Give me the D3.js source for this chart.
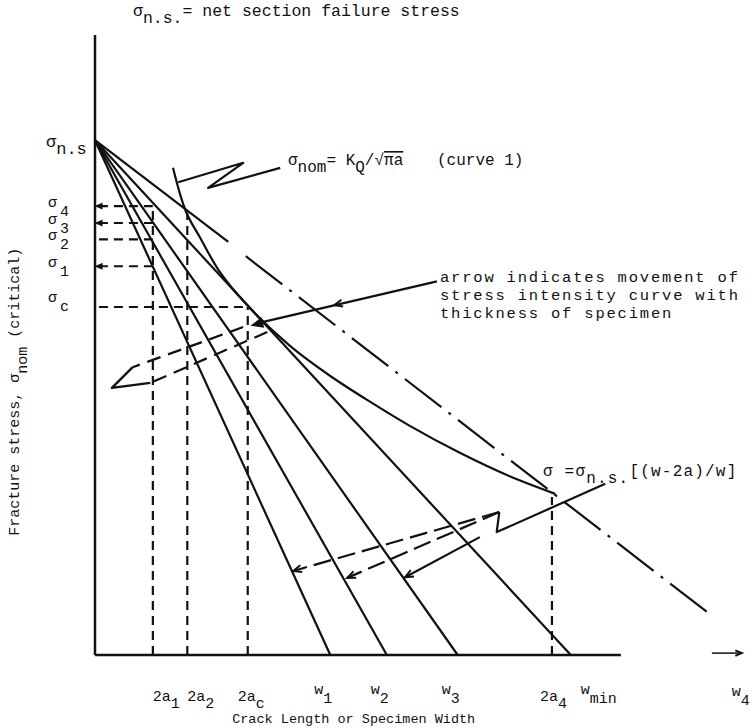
<!DOCTYPE html>
<html>
<head>
<meta charset="utf-8">
<script src="https://cdn.jsdelivr.net/npm/d3@7"></script>
<style>
  body { margin: 0; background: #fff; }
  text { font-family: "Liberation Mono", "DejaVu Sans Mono", monospace; fill: #111; white-space: pre; }
</style>
</head>
<body>
<div id="chart"></div>
<script>
// schematic units: x = crack length / width (0..100), y = fracture stress (0..100)
const sigmaNS = 82.1
const sigmaNames = ['4', '3', '2', '1', 'c']
const sigmaValues = [71.6, 68.9, 66.3, 62.0, 55.5]
const sigmaReach = [8.9, 8.9, 8.9, 8.9, 23.5]   // where each dashed guide stops
const crackNames = ['1', '2', 'c', '4']
const crackValues = [8.9, 14.2, 23.5, 70.3]
const crackTops = [71.5, 70.5, 55.5, 25.2]
const widthNames = ['1', '2', '3', 'min']
const widthValues = [36.2, 44.9, 55.8, 73.2]
const w4Value = 99.2
// curve 1, sigma_nom = K_Q / sqrt(pi a)
const curveA = [12.0, 14.0, 16.2, 19.2, 23.5, 30.0, 36.2, 42.3, 48.5, 56.2, 63.8, 70.8]
const curveS = [77.7, 70.7, 66.5, 61.1, 55.7, 49.3, 44.5, 40.4, 36.5, 32.2, 28.5, 25.7]
// net section line for w4 (dash-dot), first stretch drawn unbroken
const netStart = [[0, sigmaNS], [20.5, 65.9]]
const netRest = [[23.2, 63.6], [95.1, 6.1]]

const W = 752, H = 728
const x = d3.scaleLinear().domain([0, 100]).range([95, 745])
const y = d3.scaleLinear().domain([0, 100]).range([655, 28])

const svg = d3.select('#chart').append('svg')
  .attr('width', W)
  .attr('height', H)

const line = d3.line().x(d => x(d[0])).y(d => y(d[1]))
const ink = '#111'

const path = (pts, sw, dash) => svg.append('path')
  .attr('d', line(pts))
  .attr('fill', 'none')
  .attr('stroke', ink)
  .attr('stroke-width', sw)
  .attr('stroke-dasharray', dash || null)
  .attr('stroke-linejoin', 'round')

const head = (from, to, len, filled) => {
  const p0 = [x(from[0]), y(from[1])]
  const p1 = [x(to[0]), y(to[1])]
  const ang = Math.atan2(p1[1] - p0[1], p1[0] - p0[0])
  const a1 = ang + Math.PI - 0.4, a2 = ang + Math.PI + 0.4
  const pts = [
    [p1[0] + len * Math.cos(a1), p1[1] + len * Math.sin(a1)],
    p1,
    [p1[0] + len * Math.cos(a2), p1[1] + len * Math.sin(a2)]
  ]
  svg.append('path')
    .attr('d', d3.line()(pts) + (filled ? 'Z' : ''))
    .attr('fill', filled ? ink : 'none')
    .attr('stroke', ink)
    .attr('stroke-width', 2)
}

// axes
path([[0, 0], [0, 98.9]], 2.5)
path([[0, 0], [80.9, 0]], 2.5)
path([[94.9, 0.3], [99.5, 0.3]], 1.5)
head([94.9, 0.3], [99.5, 0.3], 7, false)

// dashed guide lines
sigmaValues.forEach((s, i) => {
  path([[0.6, s], [sigmaReach[i], s]], 2.2, '9,6')
})
crackValues.forEach((a, i) => {
  path([[a, 0], [a, crackTops[i]]], 2.2, '9,6')
})
;[0, 1, 3].forEach(i => head([3, sigmaValues[i]], [0.3, sigmaValues[i]], 5, true))

// net section failure lines for each width
widthValues.forEach(w => path([[0, sigmaNS], [w, 0]], 2.2))
path(netStart, 2.2)
path(netRest, 2.2, '46,9,3,9')

// stress intensity curve
svg.append('path')
  .attr('d', d3.line().curve(d3.curveCatmullRom).x(d => x(d[0])).y(d => y(d[1]))(d3.zip(curveA, curveS)))
  .attr('fill', 'none')
  .attr('stroke', ink)
  .attr('stroke-width', 2.2)

// pointer to curve 1
path([[28.5, 77.7], [17.4, 74.5], [22.8, 78.5], [12.8, 75.4]], 2.2)

// pointer from "arrow indicates ..." note
path([[52.6, 59.6], [25.4, 53.0]], 2.2)
head([40, 56.6], [36.8, 55.8], 9, false)
head([30, 54.2], [24.3, 52.6], 10, true)
path([[22.8, 52.3], [5.8, 45.9]], 2.2, '14,8')
path([[26.5, 51.5], [8.5, 43.4]], 2.2, '14,8')
path([[5.8, 45.9], [2.6, 42.6], [8.5, 43.4]], 2.4)

// pointer to net section line, with the three width arrows
path([[78.5, 27.3], [61.8, 19.6], [62.2, 22.8]], 2.2)
path([[62.2, 22.8], [30.5, 13.4]], 2.2, '18,7')
head([40, 16.2], [30.5, 13.4], 9, false)
path([[62.2, 22.8], [38.8, 12.3]], 2.2, '18,7')
head([46, 15.5], [38.8, 12.3], 9, false)
path([[59.2, 18.8], [47.7, 12.4]], 2.2)
head([52, 14.8], [47.7, 12.4], 9, false)

// text helper, typewriter style subscripts
const label = (px, py, parts, size, drop, spacing) => {
  const t = svg.append('text').attr('x', px).attr('y', py).attr('font-size', size)
  if (spacing) t.attr('letter-spacing', spacing)
  const d = drop || 7
  let shift = 0
  parts.forEach(p => {
    const dy = (p.sub ? d : 0) - shift
    shift = p.sub ? d : 0
    const ts = t.append('tspan').attr('dy', dy).text(p.t)
    if (p.over) ts.attr('text-decoration', 'overline')
  })
  return t
}

label(133, 16, [{ t: 'σ' }, { t: 'n.s.', sub: true }, { t: '= net section failure stress' }], 16.5)
label(46, 147, [{ t: 'σ' }, { t: 'n.s', sub: true }], 17)
sigmaNames.forEach((n, i) => {
  const py = y(sigmaValues[i]) + 1 + (n === 'c' ? -6 : 0)
  label(48, py, [{ t: 'σ' }], 15)
  label(60, py + 9, [{ t: n }], 15)
})
label(288, 165, [{ t: 'σ' }, { t: 'nom', sub: true }, { t: '= K' }, { t: 'Q', sub: true },
  { t: '/√' }, { t: 'πa', over: true }], 16)
label(437, 165, [{ t: '(curve 1)' }], 16)
;['arrow indicates movement of', 'stress intensity curve with', 'thickness of specimen']
  .forEach((s, i) => label(440, 282 + i * 18, [{ t: s }], 15.5, 0, 1.8))
label(543, 476, [{ t: 'σ =σ' }, { t: 'n.s.', sub: true }, { t: '[(w-2a)/w]' }], 16, 7, 1.2)

// bottom labels
crackNames.forEach((n, i) => {
  const dx = i === 0 ? 0 : i === 1 ? 0 : i === 2 ? -10 : -12
  label(x(crackValues[i]) + dx, 701, [{ t: '2a' }, { t: n, sub: true }], 15)
})
widthNames.forEach((n, i) => {
  const dx = n === 'min' ? 10 : -16
  label(x(widthValues[i]) + dx, 694, [{ t: 'w' }, { t: n, sub: true }], 15, 9)
})
label(x(w4Value) - 8, 696, [{ t: 'w' }, { t: '4', sub: true }], 15, 9)

svg.append('text')
  .attr('x', x(39.8)).attr('y', 723)
  .attr('text-anchor', 'middle')
  .attr('font-size', 13.5)
  .text('Crack Length or Specimen Width')

const yl = svg.append('text')
  .attr('transform', 'translate(19,' + y(42) + ') rotate(-90)')
  .attr('text-anchor', 'middle')
  .attr('font-size', 15)
yl.append('tspan').text('Fracture stress, σ')
yl.append('tspan').attr('dy', 8).text('nom')
yl.append('tspan').attr('dy', -8).text(' (critical)')
</script>
</body>
</html>
